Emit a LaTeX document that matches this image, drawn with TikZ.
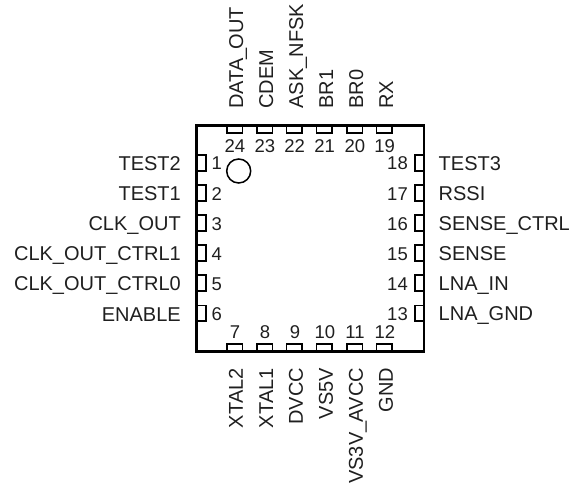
\documentclass[tikz,border=0pt]{standalone}
\usepackage{fontspec}
\setmainfont{Liberation Sans}
\tikzset{
  pkg/.style={line width=2.4pt,line join=miter},
  padh/.style={draw,line width=1.8pt,minimum width=15.8pt,minimum height=7.5pt,inner sep=0pt},
  padv/.style={draw,line width=1.8pt,minimum width=8.7pt,minimum height=15.8pt,inner sep=0pt},
  num/.style={font=\fontsize{18.5}{20}\selectfont,text=black!88,inner sep=0pt},
  lbl/.style={font=\fontsize{20}{22}\selectfont,text=black!88,inner sep=0pt}
}
\begin{document}
\begin{tikzpicture}[x=1pt,y=-1pt]
\useasboundingbox (0,0) rectangle (571,486);
\coordinate (tl) at (196.5,125.5);
\coordinate (br) at (424,351.5);
\draw[pkg] (tl) rectangle (br);
\node[circle,draw,line width=1.5pt,minimum size=24pt,inner sep=0pt] (mark) at (238.7,171) {};
% left side
\foreach \n/\y/\t in {1/163/TEST2,2/193.2/TEST1,3/223.2/CLK\_OUT,4/253.2/CLK\_OUT\_CTRL1,5/283.2/CLK\_OUT\_CTRL0,6/313.4/ENABLE}{
  \node[padv] (p\n) at (201.3,\y) {};
  \node[num,anchor=base west] (n\n) at (211.5,\y+7) {\n};
  \node[lbl,anchor=base east] (l\n) at (181,\y+7.7) {\t};
}
% right side
\foreach \n/\y/\t in {18/163/TEST3,17/193.2/RSSI,16/223.2/SENSE\_CTRL,15/253.2/SENSE,14/283.2/LNA\_IN,13/313.4/LNA\_GND}{
  \node[padv] (p\n) at (419.2,\y) {};
  \node[num,anchor=base east] (n\n) at (408,\y+7) {\n};
  \node[lbl,anchor=base west] (l\n) at (438.5,\y+7.5) {\t};
}
% top side
\foreach \n/\x/\t in {24/234.5/{D\kern-.6pt A\kern-1.4pt T\kern-1.4pt A\kern-1pt\_\kern-.8pt OUT},23/264.6/CDEM,22/294.4/ASK\_NFSK,21/324.4/BR1,20/354.5/BR0,19/384.4/RX}{
  \node[padh] (p\n) at (\x,129.2) {};
  \node[num,anchor=base] (n\n) at (\x+.3,152.2) {\n};
  \node[lbl,rotate=90,anchor=base west] (l\n) at (\x+8.6,108.7) {\t};
}
% bottom side
\foreach \n/\x/\t in {7/234.5/{XT\kern-1pt AL2},8/264.6/{XT\kern-1pt AL1},9/294.4/DVCC,10/324.4/VS5V,11/354.5/{VS3V\_\kern-1pt A\kern-1pt VCC},12/384.4/GND}{
  \node[padh] (p\n) at (\x,347.9) {};
  \node[num,anchor=base] (n\n) at (\x+.5,338.7) {\n};
  \node[lbl,rotate=90,anchor=base east] (l\n) at (\x+8.4,367.7) {\t};
}
\end{tikzpicture}
\end{document}
